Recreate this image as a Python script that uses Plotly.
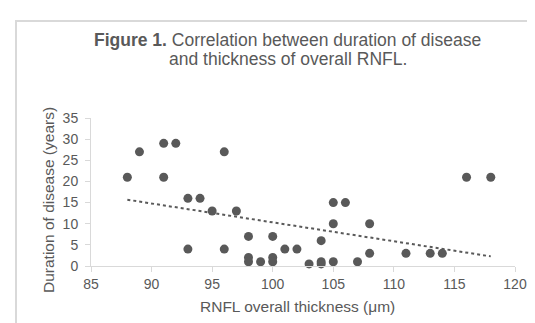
import numpy as np
import plotly.graph_objects as go

rnfl_thickness = [88, 89, 91, 91, 92, 93, 93, 94, 95, 96, 96, 97, 98, 98, 98, 99,
                  100, 100, 100, 101, 102, 103, 104, 104, 104, 105, 105, 105, 106,
                  107, 108, 108, 111, 113, 114, 116, 118]
disease_duration = [21, 27, 29, 21, 29, 16, 4, 16, 13, 27, 4, 13, 7, 2, 1, 1,
                    7, 2, 1, 4, 4, 0.5, 6, 1, 0.5, 1, 10, 15, 15,
                    1, 10, 3, 3, 3, 3, 21, 21]
x_ticks = [85, 90, 95, 100, 105, 110, 115, 120]
y_ticks = [0, 5, 10, 15, 20, 25, 30, 35]
title_line1 = "<b>Figure 1.</b> Correlation between duration of disease"
title_line2 = "and thickness of overall RNFL."
x_title = "RNFL overall thickness (μm)"
y_title = "Duration of disease (years)"

xa = np.array(rnfl_thickness, dtype=float)
ya = np.array(disease_duration, dtype=float)
slope, intercept = np.polyfit(xa, ya, 1)
trend_x = [xa.min(), xa.max()]
trend_y = [slope * v + intercept for v in trend_x]

W, H = 535, 323
ml, mr, mt, mb = 83, 28, 110, 65
pw, ph = W - ml - mr, H - mt - mb

def px2paper_x(px):
    return (px - ml) / pw

def px2paper_y(py):
    return (H - mb - py) / ph

grey = "#595959"
axis_grey = "#d9d9d9"
font = "Liberation Sans, Arial, sans-serif"

fig = go.Figure()
fig.add_trace(go.Scatter(
    x=rnfl_thickness, y=disease_duration, mode="markers",
    marker=dict(color=grey, size=9, line=dict(width=0)),
    showlegend=False, cliponaxis=False,
))
fig.add_trace(go.Scatter(
    x=trend_x, y=trend_y, mode="lines",
    line=dict(color=grey, width=2, dash="dot"),
    showlegend=False,
))

fig.add_shape(type="rect", xref="paper", yref="paper",
              x0=px2paper_x(8), x1=px2paper_x(560),
              y0=px2paper_y(340), y1=px2paper_y(13),
              line=dict(color=axis_grey, width=2), fillcolor="rgba(0,0,0,0)",
              layer="above")

for txt, cy in [(title_line1, 32), (title_line2, 51)]:
    fig.add_annotation(
        xref="paper", yref="paper",
        x=px2paper_x(279.5), y=px2paper_y(cy),
        xanchor="center", yanchor="middle",
        text=txt, showarrow=False, align="center",
        font=dict(family=font, size=17.5, color=grey),
    )

fig.add_annotation(
    xref="paper", yref="paper",
    x=px2paper_x(289), y=px2paper_y(298),
    xanchor="center", yanchor="middle",
    text=x_title, showarrow=False,
    font=dict(family=font, size=15.5, color=grey),
)
fig.add_annotation(
    xref="paper", yref="paper",
    x=px2paper_x(40), y=px2paper_y(192),
    xanchor="center", yanchor="middle", textangle=-90,
    text=y_title, showarrow=False,
    font=dict(family=font, size=15.5, color=grey),
)

fig.update_layout(
    width=W, height=H,
    margin=dict(l=ml, r=mr, t=mt, b=mb, autoexpand=False),
    paper_bgcolor="white", plot_bgcolor="white",
    font=dict(family=font, color=grey, size=14),
    xaxis=dict(
        range=[85, 120], tickvals=x_ticks, ticktext=[str(v) for v in x_ticks],
        showgrid=False, zeroline=False, showline=True, linecolor=axis_grey,
        linewidth=1, ticks="outside", ticklen=5, tickcolor=axis_grey,
        tickfont=dict(size=14, color=grey, family=font),
        automargin=False,
    ),
    yaxis=dict(
        range=[0, 35], tickvals=y_ticks, ticktext=[str(v) for v in y_ticks],
        showgrid=False, zeroline=False, showline=True, linecolor=axis_grey,
        linewidth=1, ticks="outside", ticklen=5, tickcolor=axis_grey,
        tickfont=dict(size=14, color=grey, family=font),
        ticklabelstandoff=4,
        automargin=False,
    ),
)

fig.write_html("out.html")
